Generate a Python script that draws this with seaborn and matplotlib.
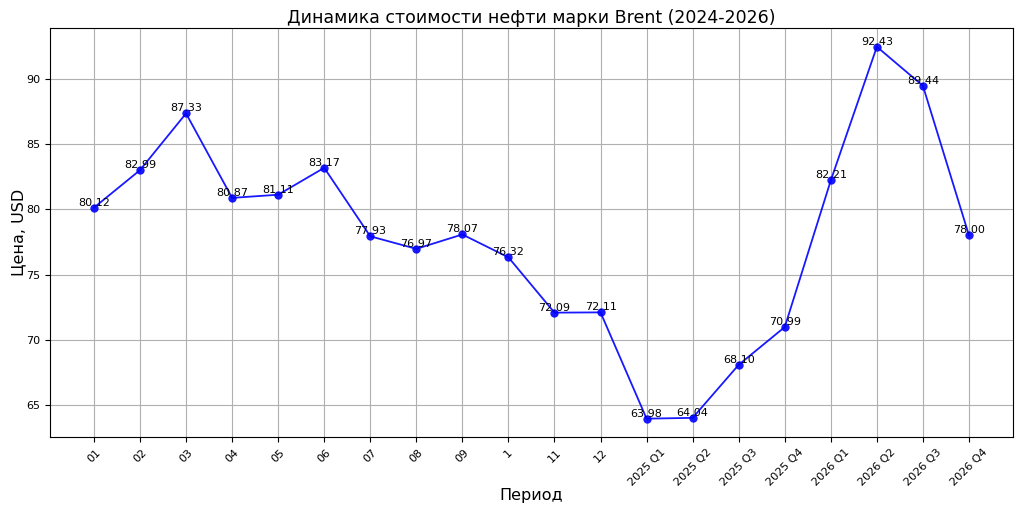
import matplotlib
matplotlib.use("Agg")
import matplotlib.pyplot as plt
import seaborn as sns

periods = ["01", "02", "03", "04", "05", "06", "07", "08", "09", "1", "11", "12",
           "2025 Q1", "2025 Q2", "2025 Q3", "2025 Q4",
           "2026 Q1", "2026 Q2", "2026 Q3", "2026 Q4"]
prices = [80.12, 82.99, 87.33, 80.87, 81.11, 83.17, 77.93, 76.97, 78.07, 76.32,
          72.09, 72.11, 63.98, 64.04, 68.10, 70.99, 82.21, 92.43, 89.44, 78.00]

sns.set_style("ticks")
plt.rcParams["font.family"] = ["DejaVu Sans"]
plt.rcParams["text.color"] = "black"
plt.rcParams["axes.labelcolor"] = "black"
plt.rcParams["xtick.color"] = "black"
plt.rcParams["ytick.color"] = "black"

fig, ax = plt.subplots(figsize=(10.24, 5.12), dpi=100)
sns.lineplot(x=periods, y=prices, sort=False, marker="o", color="blue",
             markersize=6, markeredgewidth=0, linewidth=1.3, alpha=0.9, ax=ax)

for i, v in enumerate(prices):
    ax.annotate(f"{v:.2f}", (i, v), textcoords="offset points", xytext=(0, 0),
                ha="center", va="bottom", fontsize=8, color="black")

ax.set_title("Динамика стоимости нефти марки Brent (2024-2026)", fontsize=12.5, pad=4)
ax.set_xlabel("Период", fontsize=11.5, labelpad=0)
ax.set_ylabel("Цена, USD", fontsize=11.5, labelpad=0)
ax.tick_params(axis="x", rotation=45, labelsize=8)
ax.tick_params(axis="y", labelsize=8)
ax.grid(True, color="#b0b0b0", linewidth=0.8)
for s in ax.spines.values():
    s.set_visible(True)
    s.set_color("black")
    s.set_linewidth(0.8)

fig.subplots_adjust(left=0.049, right=0.989, top=0.945, bottom=0.146)
plt.savefig("out.png")
